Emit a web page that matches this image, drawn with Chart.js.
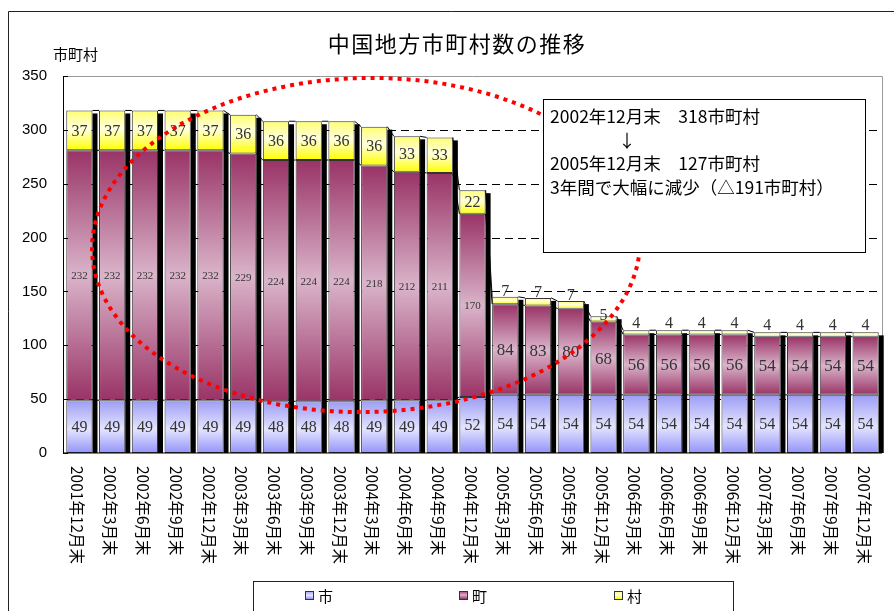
<!DOCTYPE html>
<html>
<head>
<meta charset="utf-8">
<script src="https://cdn.jsdelivr.net/npm/chart.js@4"></script>
<style>
  body { margin: 0; background: #fff; }
  #wrap { width: 894px; height: 611px; }
</style>
</head>
<body>
<div id="wrap"><canvas id="chart" width="894" height="611"></canvas></div>
<script>
// data
const categories = ['2001年12月末', '2002年3月末', '2002年6月末', '2002年9月末', '2002年12月末',
  '2003年3月末', '2003年6月末', '2003年9月末', '2003年12月末', '2004年3月末', '2004年6月末',
  '2004年9月末', '2004年12月末', '2005年3月末', '2005年6月末', '2005年9月末', '2005年12月末',
  '2006年3月末', '2006年6月末', '2006年9月末', '2006年12月末', '2007年3月末', '2007年6月末',
  '2007年9月末', '2007年12月末'];
const cities   = [49, 49, 49, 49, 49, 49, 48, 48, 48, 49, 49, 49, 52, 54, 54, 54, 54, 54, 54, 54, 54, 54, 54, 54, 54];
const towns    = [232, 232, 232, 232, 232, 229, 224, 224, 224, 218, 212, 211, 170, 84, 83, 80, 68, 56, 56, 56, 56, 54, 54, 54, 54];
const villages = [37, 37, 37, 37, 37, 36, 36, 36, 36, 36, 33, 33, 22, 7, 7, 7, 5, 4, 4, 4, 4, 4, 4, 4, 4];
const yMax = 350;
const yStep = 50;
const seriesNames = ['市', '町', '村'];
const noteLines = ['2002年12月末　318市町村', '↓', '2005年12月末　127市町村', '3年間で大幅に減少（△191市町村）'];

const JP = '"Noto Sans CJK JP", "Noto Sans", sans-serif';
const SERIF = '"Liberation Serif", "DejaVu Serif", serif';

const stopsCity    = [[0, '#9c9cf4'], [0.55, '#e4e4ff'], [1, '#9494fa']];
const stopsTown    = [[0, '#993366'], [0.5, '#dab4ca'], [1, '#993366']];
const stopsVillage = [[0, '#ffff70'], [0.45, '#ffffe0'], [1, '#ffff00']];

// per-bar vertical gradient, computed from the stack values through the y scale
function barGradient(stops) {
  return function(c) {
    const chart = c.chart;
    if (c.type !== 'data' || !chart.chartArea) return stops[1][1];
    const i = c.dataIndex, d = c.datasetIndex;
    let base = 0;
    for (let k = 0; k < d; k++) base += chart.data.datasets[k].data[i];
    const top = base + chart.data.datasets[d].data[i];
    const y = chart.scales.y;
    const g = chart.ctx.createLinearGradient(0, y.getPixelForValue(top), 0, y.getPixelForValue(base));
    stops.forEach(s => g.addColorStop(s[0], s[1]));
    return g;
  };
}

const SHADOW = 5;

const decor = {
  id: 'decor',
  beforeDraw(chart) {
    const ctx = chart.ctx;
    ctx.save();
    ctx.fillStyle = '#fff';
    ctx.fillRect(0, 0, chart.width, chart.height);
    // outer frame
    ctx.strokeStyle = '#222';
    ctx.lineWidth = 1;
    ctx.beginPath();
    ctx.moveTo(8.5, chart.height);
    ctx.lineTo(8.5, 11.5);
    ctx.lineTo(chart.width, 11.5);
    ctx.stroke();
    ctx.restore();
  },
  beforeDatasetsDraw(chart) {
    const ctx = chart.ctx;
    const a = chart.chartArea;
    const y = chart.scales.y;
    ctx.save();
    // dashed grid
    ctx.strokeStyle = '#000';
    ctx.lineWidth = 1;
    ctx.setLineDash([8, 5]);
    for (let v = yStep; v < yMax; v += yStep) {
      const py = Math.round(y.getPixelForValue(v)) + 0.5;
      ctx.beginPath();
      ctx.moveTo(a.left, py);
      ctx.lineTo(a.right, py);
      ctx.stroke();
    }
    ctx.setLineDash([]);
    // plot frame: grey top/right
    ctx.strokeStyle = '#999';
    ctx.beginPath();
    ctx.moveTo(a.left, Math.round(a.top) + 0.5);
    ctx.lineTo(Math.round(a.right) + 0.5, Math.round(a.top) + 0.5);
    ctx.lineTo(Math.round(a.right) + 0.5, a.bottom);
    ctx.stroke();
    // shadows behind each stack
    const top = chart.getDatasetMeta(2).data;
    const bottom = chart.getDatasetMeta(0).data;
    ctx.fillStyle = '#000';
    top.forEach((el, i) => {
      const x = el.x + el.width / 2;
      ctx.fillRect(x, el.y + 3, SHADOW, bottom[i].base - el.y - 3);
    });
    ctx.restore();
  },
  afterDatasetsDraw(chart) {
    const ctx = chart.ctx;
    const a = chart.chartArea;
    const y = chart.scales.y;
    ctx.save();
    // series lines between neighbouring bars
    ctx.strokeStyle = '#000';
    ctx.lineWidth = 1;
    for (let d = 0; d < 3; d++) {
      const els = chart.getDatasetMeta(d).data;
      for (let i = 0; i < els.length - 1; i++) {
        ctx.beginPath();
        ctx.moveTo(els[i].x + els[i].width / 2, els[i].y);
        ctx.lineTo(els[i + 1].x - els[i + 1].width / 2, els[i + 1].y);
        ctx.stroke();
      }
    }
    // axes
    ctx.beginPath();
    ctx.moveTo(Math.round(a.left) + 0.5, a.top);
    ctx.lineTo(Math.round(a.left) + 0.5, a.bottom);
    ctx.lineTo(a.right, a.bottom);
    ctx.stroke();
    for (let v = 0; v <= yMax; v += yStep) {
      const py = Math.round(y.getPixelForValue(v)) + 0.5;
      ctx.beginPath();
      ctx.moveTo(a.left, py);
      ctx.lineTo(a.left + 5, py);
      ctx.stroke();
    }
    // value labels
    ctx.fillStyle = '#333';
    ctx.textAlign = 'center';
    ctx.textBaseline = 'middle';
    chart.data.datasets.forEach((ds, d) => {
      chart.getDatasetMeta(d).data.forEach((el, i) => {
        const v = ds.data[i];
        let size = 16;
        if (d === 1) size = i <= 12 ? 11 : 17;
        let cy = (el.y + el.base) / 2;
        if (v < 10) cy -= v === 5 ? 4 : 10;
        ctx.font = size + 'px ' + SERIF;
        ctx.fillText(String(v), el.x, cy + 1);
      });
    });
    ctx.restore();
  },
  afterDraw(chart) {
    const ctx = chart.ctx;
    const x = chart.scales.x;
    ctx.save();
    // title
    ctx.fillStyle = '#000';
    ctx.textAlign = 'center';
    ctx.textBaseline = 'middle';
    ctx.font = '22px ' + JP;
    ctx.letterSpacing = '1.5px';
    ctx.fillText('中国地方市町村数の推移', 457, 44);
    ctx.letterSpacing = '0px';
    // y axis title
    ctx.font = '15px ' + JP;
    ctx.textAlign = 'left';
    ctx.fillText('市町村', 53, 54);
    // category labels, turned clockwise
    ctx.font = '15.5px ' + JP;
    categories.forEach((lab, i) => {
      ctx.save();
      ctx.translate(x.getPixelForValue(i) - 2, 466);
      ctx.rotate(Math.PI / 2);
      ctx.textAlign = 'left';
      ctx.textBaseline = 'middle';
      ctx.fillText(lab, 0, 0);
      ctx.restore();
    });
    // dotted red ellipse
    ctx.strokeStyle = '#ff0000';
    ctx.lineWidth = 4;
    ctx.setLineDash([4, 5]);
    ctx.beginPath();
    ctx.ellipse(366, 245, 274, 167, -0.02, 0, Math.PI * 2);
    ctx.stroke();
    ctx.setLineDash([]);
    // note box
    ctx.fillStyle = '#fff';
    ctx.fillRect(543, 99, 323, 154);
    ctx.strokeStyle = '#000';
    ctx.lineWidth = 1;
    ctx.strokeRect(543.5, 99.5, 322, 153);
    ctx.fillStyle = '#000';
    ctx.font = '17.5px ' + JP;
    ctx.textAlign = 'left';
    ctx.fillText(noteLines[0], 550, 116);
    ctx.textAlign = 'center';
    ctx.fillText(noteLines[1], 627, 140);
    ctx.textAlign = 'left';
    ctx.fillText(noteLines[2], 550, 163);
    ctx.fillText(noteLines[3], 550, 187);
    // legend
    ctx.strokeStyle = '#222';
    ctx.strokeRect(253.5, 581.5, 480, 40);
    const stops = [stopsCity, stopsTown, stopsVillage];
    const lx = [305, 459, 614];
    seriesNames.forEach((name, k) => {
      const g = ctx.createLinearGradient(0, 591, 0, 599);
      stops[k].forEach(s => g.addColorStop(s[0], s[1]));
      ctx.fillStyle = g;
      ctx.fillRect(lx[k], 591, 8, 8);
      ctx.strokeStyle = '#333';
      ctx.strokeRect(lx[k] + 0.5, 591.5, 8, 8);
      ctx.fillStyle = '#000';
      ctx.font = '15px ' + JP;
      ctx.textAlign = 'left';
      ctx.textBaseline = 'middle';
      ctx.fillText(name, lx[k] + 13, 596);
    });
    ctx.restore();
  }
};

new Chart(document.getElementById('chart'), {
  type: 'bar',
  data: {
    labels: categories,
    datasets: [
      { label: seriesNames[0], data: cities, backgroundColor: barGradient(stopsCity) },
      { label: seriesNames[1], data: towns, backgroundColor: barGradient(stopsTown) },
      { label: seriesNames[2], data: villages, backgroundColor: barGradient(stopsVillage) }
    ]
  },
  options: {
    responsive: false,
    animation: false,
    layout: { padding: { top: 76, left: 0, right: 12, bottom: 158 } },
    datasets: {
      bar: {
        borderColor: '#333',
        borderWidth: 1,
        borderSkipped: false,
        categoryPercentage: 1,
        barPercentage: 0.8
      }
    },
    plugins: {
      legend: { display: false },
      title: { display: false },
      tooltip: { enabled: false }
    },
    scales: {
      x: { stacked: true, display: false },
      y: {
        stacked: true,
        min: 0,
        max: yMax,
        afterFit(s) { s.width = 63; },
        grid: { display: false, drawTicks: false },
        border: { display: false },
        ticks: {
          stepSize: yStep,
          padding: 16,
          color: '#000',
          font: { family: '"Liberation Sans", Arial, sans-serif', size: 15 }
        }
      }
    }
  },
  plugins: [decor]
});
</script>
</body>
</html>
